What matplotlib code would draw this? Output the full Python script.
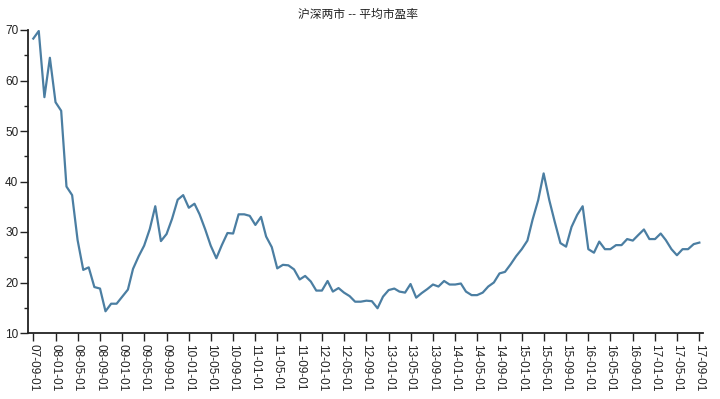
import numpy as np
import pandas as pd
import matplotlib
matplotlib.use('Agg')
import matplotlib.pyplot as plt
import matplotlib.dates as mdates
from matplotlib.ticker import MultipleLocator

plt.rcParams['font.family'] = ['Liberation Sans', 'Noto Sans CJK SC']

title = '沪深两市 -- 平均市盈率'
start_date = '2007-09-01'
# 月度平均市盈率 (2007-09 ~ 2017-09)
pe_values = [
    68.3, 69.8, 56.7, 64.5, 55.7, 54.0, 39.0, 37.3, 28.4, 22.5, 23.0, 19.1,
    18.8, 14.3, 15.8, 15.8, 17.2, 18.6, 22.7, 25.2, 27.3, 30.6, 35.1, 28.2,
    29.6, 32.6, 36.4, 37.3, 34.8, 35.6, 33.5, 30.5, 27.3, 24.8, 27.4, 29.8,
    29.7, 33.5, 33.5, 33.2, 31.4, 33.0, 29.1, 27.0, 22.8, 23.5, 23.4, 22.6,
    20.6, 21.3, 20.2, 18.4, 18.4, 20.3, 18.2, 18.9, 18.0, 17.3, 16.2, 16.2,
    16.4, 16.3, 14.9, 17.2, 18.5, 18.8, 18.2, 18.0, 19.7, 17.0, 17.9, 18.7,
    19.6, 19.2, 20.3, 19.6, 19.6, 19.8, 18.2, 17.5, 17.5, 18.0, 19.2, 20.0,
    21.8, 22.1, 23.6, 25.2, 26.6, 28.3, 32.4, 36.3, 41.6, 36.3, 32.0, 27.8,
    27.1, 31.0, 33.4, 35.1, 26.6, 25.9, 28.1, 26.6, 26.6, 27.4, 27.4, 28.6,
    28.3, 29.4, 30.5, 28.6, 28.6, 29.7, 28.4, 26.6, 25.4, 26.6, 26.6, 27.6,
    27.9,
]
dates = pd.date_range(start_date, periods=len(pe_values), freq='MS')

fig = plt.figure(figsize=(7.2, 3.99), dpi=100)
ax = fig.add_axes([28 / 720, 1 - 333 / 399, 675 / 720, 303 / 399])

ax.plot(dates, pe_values, color='#4b7ea2', linewidth=1.6)

ax.set_ylim(10, 70)
ax.set_xlim(dates[0] - pd.Timedelta(days=29), dates[-1] + pd.Timedelta(days=20))

ax.yaxis.set_major_locator(MultipleLocator(10))
ax.yaxis.set_minor_locator(MultipleLocator(5))
ax.xaxis.set_major_locator(mdates.MonthLocator(bymonth=[1, 5, 9], bymonthday=1))
ax.xaxis.set_major_formatter(mdates.DateFormatter('%y-%m-%d'))

for side in ['top', 'right']:
    ax.spines[side].set_visible(False)
for side in ['left', 'bottom']:
    ax.spines[side].set_linewidth(1.3)
    ax.spines[side].set_color('#222222')

ax.tick_params(axis='y', which='major', length=6, width=1, labelsize=8.5, pad=1, colors='#222222')
ax.tick_params(axis='y', which='minor', length=3, width=1, colors='#222222')
ax.tick_params(axis='x', which='major', length=6, width=1, labelsize=8.5, pad=2, colors='#222222')
plt.setp(ax.get_xticklabels(), rotation=-90, ha='center', va='top')

fig.text(358 / 720, 1 - 15 / 399, title, ha='center', va='center', fontsize=8.5,
         color='#222222')

fig.savefig('out.png', dpi=100)
